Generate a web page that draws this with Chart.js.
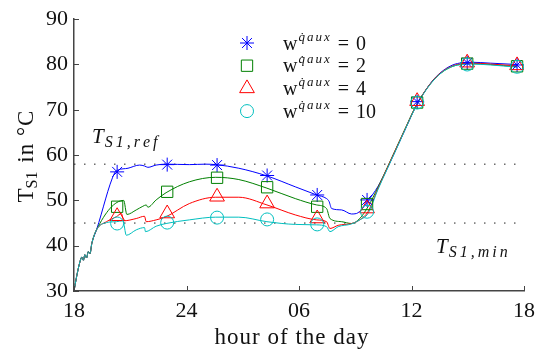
<!DOCTYPE html>
<html>
<head>
<meta charset="utf-8">
<script src="https://cdn.jsdelivr.net/npm/chart.js@4.4.1/dist/chart.umd.min.js"></script>
<style>
  html, body { margin: 0; padding: 0; background: #fff; }
  #wrap { width: 542px; height: 352px; position: relative; }
</style>
</head>
<body>
<div id="wrap"><canvas id="tempChart"></canvas></div>
<script>
// ---- data (hours counted from 18:00) ----
const xTickValues = [0, 6, 12, 18, 24];
const xTickLabels = ['18', '24', '06', '12', '18'];
const yTickValues = [30, 40, 50, 60, 70, 80, 90];

const refTemp = 58;   // T_S1,ref
const minTemp = 45;   // T_S1,min

// common start-up part, identical for all weights
const startHours = [0, 0.14, 0.32, 0.42, 0.5, 0.58, 0.67, 0.76, 0.85, 0.95];
const startTemps = [30, 33.2, 36.5, 37.5, 36.8, 38, 37.3, 38.7, 38.2, 40.5];

const riseHours = [16.2, 16.7, 17.2, 17.7, 18.2, 18.7, 19.2, 19.7, 20.2, 20.7, 21.2, 22.2, 23.63];

const w0Hours = [1.2, 2.17, 2.35, 2.88, 3.5, 3.76, 3.94, 4.38, 4.91, 6.15, 7.0, 7.56, 8.79, 10.29, 11.8, 12.94, 13.47, 13.6, 13.74, 14.27, 14.8, 15.06, 15.4, 15.7];
const w0Temps = [43.5, 56.1, 56.7, 57.1, 57.8, 57.6, 57.3, 57.8, 58.0, 57.9, 58.0, 57.9, 57.1, 55.4, 53.0, 51.2, 50.4, 49.8, 48.2, 47.9, 47.0, 47.1, 48.3, 50.0];
const w0Rise = [53.0, 57.0, 61.5, 66.0, 70.5, 74.0, 76.8, 78.7, 79.9, 80.4, 80.5, 80.3, 80.0];

const w2Hours = [1.2, 2.65, 2.82, 3.32, 3.67, 3.85, 3.94, 4.38, 4.91, 6.15, 7.56, 8.79, 10.29, 11.8, 12.94, 13.47, 13.65, 14.27, 14.8, 15.24, 15.68];
const w2Temps = [43.5, 50.0, 46.9, 47.9, 48.7, 49.0, 48.5, 50.1, 51.7, 54.1, 55.1, 54.6, 52.7, 50.4, 49.0, 48.2, 46.0, 45.3, 44.9, 46.0, 48.6];
const w2Rise = [52.8, 57.2, 61.7, 66.2, 70.6, 74.0, 76.7, 78.5, 79.6, 80.1, 80.2, 80.0, 79.5];

const w4Hours = [1.2, 1.73, 2.26, 2.53, 2.65, 3.32, 3.76, 3.85, 4.38, 4.91, 6.15, 7.56, 8.79, 10.29, 11.8, 12.94, 13.47, 13.65, 14.09, 14.8, 15.24, 15.68];
const w4Temps = [43.5, 45.3, 46.4, 47.1, 45.5, 46.0, 46.5, 45.3, 45.7, 46.4, 49.3, 50.7, 50.7, 49.0, 46.8, 45.7, 45.3, 43.8, 44.5, 44.9, 45.7, 47.5];
const w4Rise = [52.5, 57.1, 61.6, 66.1, 70.5, 74.0, 76.7, 78.6, 79.7, 80.2, 80.3, 80.1, 79.7];

const w10Hours = [1.2, 1.73, 2.26, 2.61, 2.79, 3.32, 3.76, 3.81, 4.38, 4.91, 6.15, 7.56, 8.79, 10.29, 11.8, 12.94, 13.47, 13.65, 14.09, 14.8, 15.24, 15.68];
const w10Temps = [43.5, 45.1, 45.3, 45.5, 42.3, 43.5, 44.0, 43.1, 44.3, 44.9, 45.7, 46.3, 46.3, 45.3, 44.7, 44.6, 44.2, 43.1, 44.2, 44.8, 45.7, 47.1];
const w10Rise = [52.3, 56.9, 61.4, 66.0, 70.4, 73.9, 76.6, 78.5, 79.6, 80.0, 80.1, 79.9, 79.4];

// markers
const markerHours = [2.3, 4.97, 7.63, 10.3, 12.97, 15.63, 18.3, 20.97, 23.63];
const w0Marks = [56.3, 57.9, 57.8, 55.5, 51.2, 50.1, 71.8, 80.4, 79.9];
const w2Marks = [48.6, 51.9, 55.0, 52.9, 48.6, 49.2, 71.6, 80.2, 79.6];
const w4Marks = [46.5, 47.1, 50.8, 49.3, 46.0, 48.2, 71.9, 80.4, 79.8];
const w10Marks = [44.9, 45.1, 46.2, 45.8, 44.7, 47.5, 71.6, 80.0, 79.5];

const seriesNames = ['0', '2', '4', '10'];
const seriesColors = ['#0000ff', '#008000', '#ff0000', '#00bfbf'];
const seriesStyles = ['star', 'rect', 'triangle', 'circle'];
const seriesRadius = [7, 8, 8.5, 6.5];

// ---- helpers ----
function toPoints(xs, ys) {
    return xs.map((x, i) => ({ x: x, y: ys[i] }));
}

function fullLine(hours, temps, rise) {
    return toPoints(startHours.concat(hours, riseHours), startTemps.concat(temps, rise));
}

const SERIF = '"Liberation Serif", "Times New Roman", serif';

// draws a run of text pieces (sub/superscripts via dy), spacing done by hand
function drawRich(ctx, parts, x, y, measureOnly) {
    parts.forEach(p => {
        ctx.font = (p.italic ? 'italic ' : '') + p.size + 'px ' + SERIF;
        const ls = p.ls || 0;
        if (ls) {
            for (const ch of p.t) {
                if (!measureOnly) ctx.fillText(ch, x, y + (p.dy || 0));
                x += ctx.measureText(ch).width + ls;
            }
        } else {
            if (!measureOnly) ctx.fillText(p.t, x, y + (p.dy || 0));
            x += ctx.measureText(p.t).width;
        }
        x += p.gap || 0;
    });
    return x;
}

// ---- extra drawing: inward ticks, titles, annotations, legend ----
const decorPlugin = {
    id: 'decor',
    afterDraw(chart) {
        const ctx = chart.ctx;
        const area = chart.chartArea;
        const xs = chart.scales.x;
        const ys = chart.scales.y;
        ctx.save();

        // inward tick marks
        ctx.strokeStyle = '#444';
        ctx.lineWidth = 1;
        ctx.beginPath();
        xTickValues.forEach(v => {
            const px = Math.round(xs.getPixelForValue(v)) + 0.5;
            ctx.moveTo(px, area.bottom);
            ctx.lineTo(px, area.bottom - 5);
        });
        yTickValues.forEach(v => {
            const py = Math.round(ys.getPixelForValue(v)) + 0.5;
            ctx.moveTo(area.left, py);
            ctx.lineTo(area.left + 5, py);
        });
        ctx.stroke();

        ctx.fillStyle = '#111';
        ctx.textAlign = 'left';
        ctx.textBaseline = 'alphabetic';

        // x title
        const xTitle = [{ t: 'hour of the day', size: 23, ls: 1 }];
        const xw = drawRich(ctx, xTitle, 0, 0, true);
        drawRich(ctx, xTitle, 292 - xw / 2, 344);

        // y title
        const yTitle = [
            { t: 'T', size: 23 },
            { t: 'S1', size: 16, dy: 4, gap: 2 },
            { t: ' in °C', size: 23, ls: 1 }
        ];
        const yw = drawRich(ctx, yTitle, 0, 0, true);
        ctx.save();
        ctx.translate(33, 156);
        ctx.rotate(-Math.PI / 2);
        drawRich(ctx, yTitle, -yw / 2, 0);
        ctx.restore();

        // level annotations
        drawRich(ctx, [
            { t: 'T', size: 21, italic: true, gap: 1 },
            { t: 'S1,ref', size: 16, italic: true, ls: 3, dy: 4 }
        ], 92, 143);
        drawRich(ctx, [
            { t: 'T', size: 21, italic: true, gap: 1 },
            { t: 'S1,min', size: 16, italic: true, ls: 3, dy: 4 }
        ], 436, 253);

        // legend
        const baseY = 49.5;
        const rowGap = 22.7;
        seriesNames.forEach((name, i) => {
            const y = baseY + i * rowGap;
            ctx.strokeStyle = seriesColors[i];
            ctx.fillStyle = 'rgba(0,0,0,0)';
            ctx.lineWidth = 1;
            Chart.helpers.drawPoint(ctx, {
                pointStyle: seriesStyles[i],
                radius: seriesRadius[i],
                rotation: 0,
                borderWidth: 1
            }, 247, y - 6.5);
            ctx.fillStyle = '#111';
            drawRich(ctx, [
                { t: 'w', size: 20, gap: 1 },
                { t: 'q\u0307', size: 13, italic: true, dy: -9, gap: 2 },
                { t: 'aux', size: 13, italic: true, ls: 2, dy: -9, gap: 6 },
                { t: '=', size: 20, gap: 7 },
                { t: name, size: 20 }
            ], 283, y);
        });

        ctx.restore();
    }
};

// ---- datasets ----
const lineData = [
    fullLine(w0Hours, w0Temps, w0Rise),
    fullLine(w2Hours, w2Temps, w2Rise),
    fullLine(w4Hours, w4Temps, w4Rise),
    fullLine(w10Hours, w10Temps, w10Rise)
];
const markData = [w0Marks, w2Marks, w4Marks, w10Marks];

const datasets = [];

// dotted limits
[refTemp, minTemp].forEach(level => {
    datasets.push({
        data: toPoints([0, 24], [level, level]),
        borderColor: '#222',
        borderWidth: 1,
        borderDash: [1.5, 8.5],
        pointRadius: 0,
        order: 20
    });
});

seriesNames.forEach((name, i) => {
    datasets.push({
        label: 'w = ' + name,
        data: lineData[i],
        borderColor: seriesColors[i],
        borderWidth: 1,
        pointRadius: 0,
        cubicInterpolationMode: 'monotone',
        order: 10 - i
    });
});

seriesNames.forEach((name, i) => {
    datasets.push({
        label: 'marks w = ' + name,
        data: toPoints(markerHours, markData[i]),
        showLine: false,
        borderColor: seriesColors[i],
        backgroundColor: 'rgba(0,0,0,0)',
        pointStyle: seriesStyles[i],
        pointRadius: seriesRadius[i],
        pointBorderWidth: 1,
        order: 5 - i
    });
});

Chart.defaults.font.family = SERIF;

const ctx = document.getElementById('tempChart').getContext('2d');
const tempChart = new Chart(ctx, {
    type: 'line',
    data: { datasets: datasets },
    options: {
        responsive: true,
        maintainAspectRatio: false,
        animation: false,
        layout: { padding: { top: 17, right: 15, left: 0, bottom: 0 } },
        plugins: {
            legend: { display: false },
            tooltip: { enabled: false }
        },
        scales: {
            x: {
                type: 'linear',
                min: 0,
                max: 24,
                afterFit: function(scale) { scale.height = 61; },
                afterBuildTicks: function(scale) {
                    scale.ticks = xTickValues.map(v => ({ value: v }));
                },
                ticks: {
                    color: '#111',
                    padding: 7,
                    maxRotation: 0,
                    font: { family: SERIF, size: 22 },
                    callback: function(value) {
                        const idx = xTickValues.indexOf(value);
                        return idx >= 0 ? xTickLabels[idx] : '';
                    }
                },
                grid: { display: false, drawTicks: false },
                border: { display: true, color: '#444', width: 1.5 }
            },
            y: {
                min: 30,
                max: 90,
                afterFit: function(scale) { scale.width = 74; },
                afterBuildTicks: function(scale) {
                    scale.ticks = yTickValues.map(v => ({ value: v }));
                },
                ticks: {
                    color: '#111',
                    padding: 6,
                    font: { family: SERIF, size: 22 }
                },
                grid: { display: false, drawTicks: false },
                border: { display: true, color: '#444', width: 1.5 }
            }
        }
    },
    plugins: [decorPlugin]
});

// make sure the serif faces are ready, then redraw
Promise.all([
    document.fonts.load('22px "Liberation Serif"'),
    document.fonts.load('italic 22px "Liberation Serif"')
]).then(() => tempChart.update('none')).catch(() => {});
setTimeout(() => tempChart.update('none'), 300);
</script>
</body>
</html>
